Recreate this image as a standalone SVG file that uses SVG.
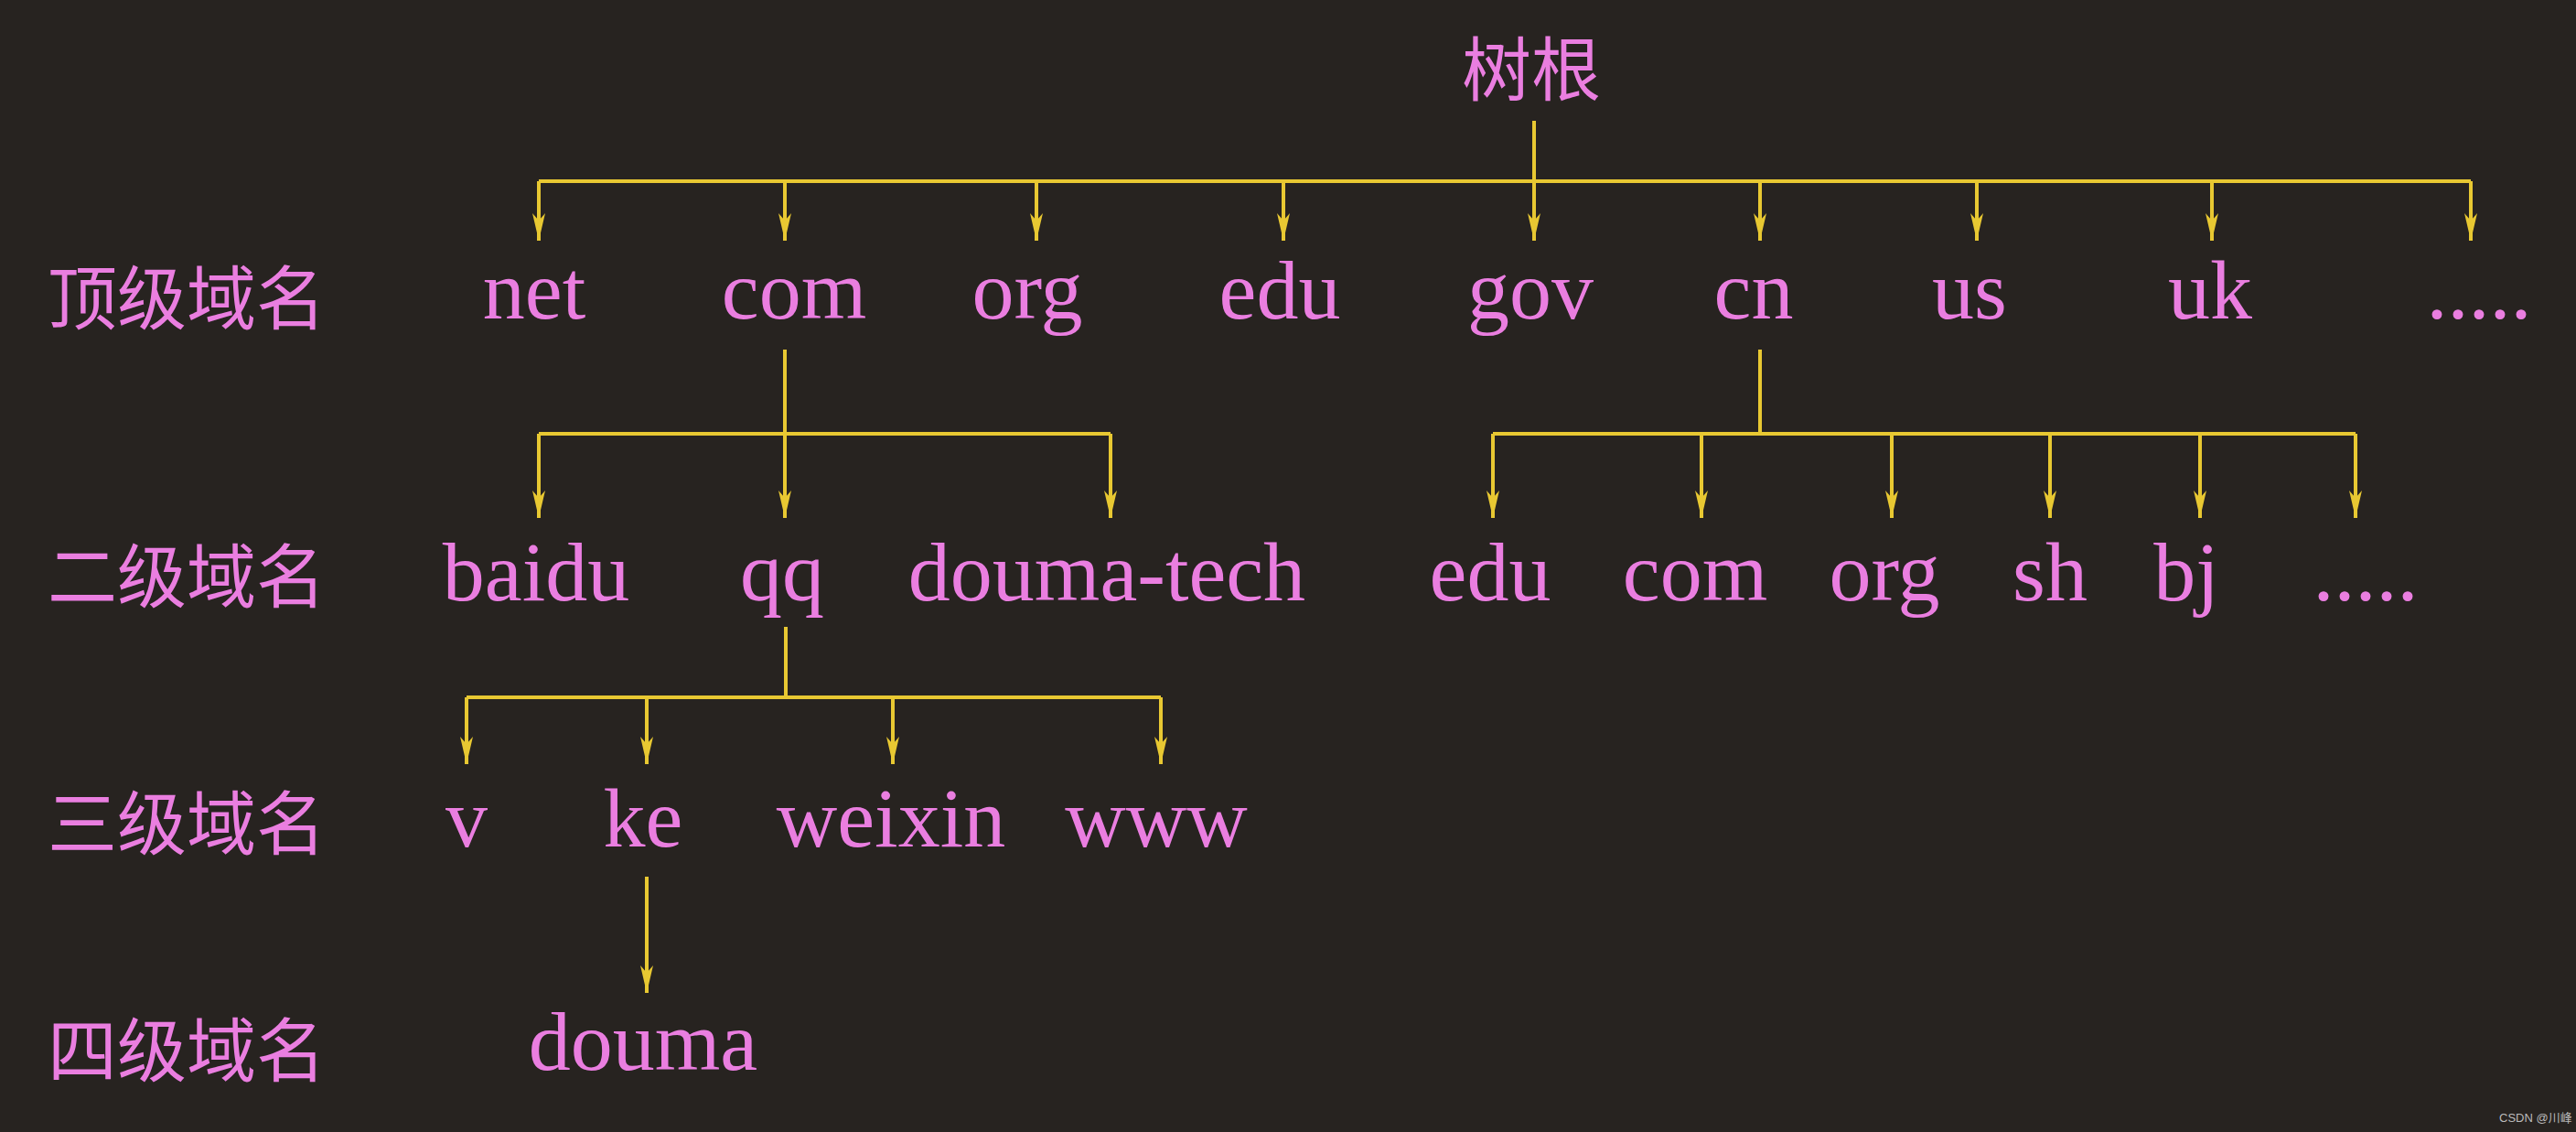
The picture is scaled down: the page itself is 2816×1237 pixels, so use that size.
<svg xmlns="http://www.w3.org/2000/svg" width="2816" height="1237" viewBox="0 0 2816 1237">
<style>
.t{font-family:"Liberation Serif","Noto Sans CJK SC",serif;font-size:92px;fill:#ea7ee0;text-anchor:middle}
.l{font-family:"Noto Sans CJK SC",sans-serif;font-size:76px;fill:#ea7ee0}
.c{stroke:#e8c832;stroke-width:4;fill:none}
</style>
<defs>
<marker id="ah2" markerWidth="16" markerHeight="30" refX="8" refY="30" orient="0" markerUnits="userSpaceOnUse"><path d="M1,0 L8,30 L15,0 L8,8 Z" fill="#e8c832"/></marker></defs>
<rect width="2816" height="1237" fill="#272320"/>
<g id="connectors">
<path class="c" d="M1677,132V198M589,198H2701M858,382V474M589,474H1214M1924,382V474M1632,474H2575M859,685V762M510,762H1269"/>
<g class="c" style="marker-end:url(#ah2)">
<path d="M589,198V263"/><path d="M858,198V263"/><path d="M1133,198V263"/><path d="M1403,198V263"/><path d="M1677,198V263"/><path d="M1924,198V263"/><path d="M2161,198V263"/><path d="M2418,198V263"/><path d="M2701,198V263"/>
<path d="M589,474V566"/><path d="M858,474V566"/><path d="M1214,474V566"/>
<path d="M1632,474V566"/><path d="M1860,474V566"/><path d="M2068,474V566"/><path d="M2241,474V566"/><path d="M2405,474V566"/><path d="M2575,474V566"/>
<path d="M510,762V835"/><path d="M707,762V835"/><path d="M976,762V835"/><path d="M1269,762V835"/>
<path d="M707,958V1085"/>
</g>
</g>
<g id="labels">
<text class="l" x="52" y="354">顶级域名</text>
<text class="l" x="52" y="658">二级域名</text>
<text class="l" x="52" y="928">三级域名</text>
<text class="l" x="52" y="1176">四级域名</text>
</g>
<g id="root"><text class="l" x="1598" y="104">树根</text></g>
<g id="n-net"><text class="t" x="584" y="348">net</text></g>
<g id="n-com"><text class="t" x="868" y="348">com</text></g>
<g id="n-org"><text class="t" x="1123" y="348">org</text></g>
<g id="n-edu"><text class="t" x="1399" y="348">edu</text></g>
<g id="n-gov"><text class="t" x="1673" y="348">gov</text></g>
<g id="n-cn"><text class="t" x="1917" y="348">cn</text></g>
<g id="n-us"><text class="t" x="2153" y="348">us</text></g>
<g id="n-uk"><text class="t" x="2416" y="348">uk</text></g>
<g id="n-more1"><text class="t" x="2710" y="348">.....</text></g>
<g id="n-baidu"><text class="t" x="586" y="656">baidu</text></g>
<g id="n-qq"><text class="t" x="855" y="656">qq</text></g>
<g id="n-douma-tech"><text class="t" x="1210" y="656">douma-tech</text></g>
<g id="n-cn-edu"><text class="t" x="1629" y="656">edu</text></g>
<g id="n-cn-com"><text class="t" x="1853" y="656">com</text></g>
<g id="n-cn-org"><text class="t" x="2060" y="656">org</text></g>
<g id="n-sh"><text class="t" x="2241" y="656">sh</text></g>
<g id="n-bj"><text class="t" x="2390" y="656">bj</text></g>
<g id="n-more2"><text class="t" x="2586" y="656">.....</text></g>
<g id="n-v"><text class="t" x="510" y="925">v</text></g>
<g id="n-ke"><text class="t" x="703" y="925">ke</text></g>
<g id="n-weixin"><text class="t" x="974" y="925">weixin</text></g>
<g id="n-www"><text class="t" x="1264" y="925">www</text></g>
<g id="n-douma"><text class="t" x="703" y="1169">douma</text></g>
<text x="2732" y="1226" font-family="Liberation Sans,Noto Sans CJK SC,sans-serif" font-size="13" fill="#bbbbbb">CSDN @川峰</text>
</svg>
